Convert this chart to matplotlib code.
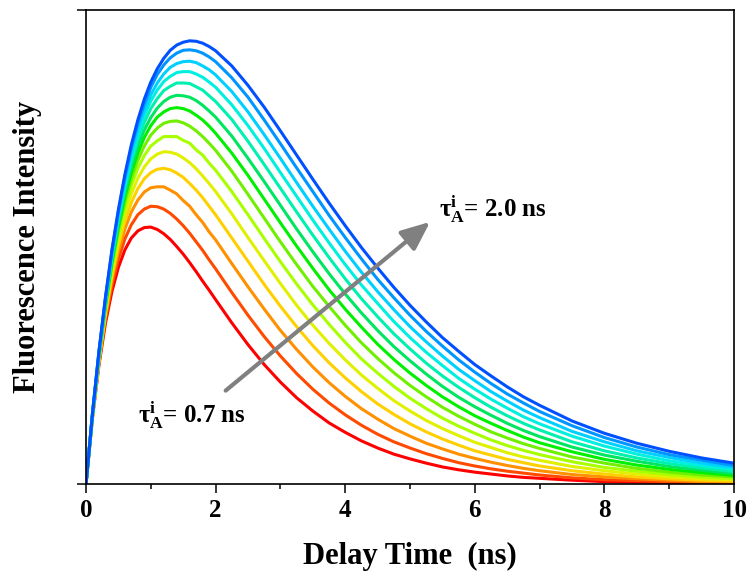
import matplotlib
matplotlib.use("Agg")
import matplotlib.pyplot as plt
from matplotlib.ticker import MultipleLocator

# delay time (ns) and intensity (a.u.) for tau_A^i = 0.7 ... 2.0 ns
delay_time = [0, 0.1, 0.2, 0.3, 0.4, 0.5, 0.6, 0.7, 0.8, 0.9, 1.0,
              1.1, 1.2, 1.3, 1.4, 1.5, 1.6, 1.7, 1.8, 1.9, 2.0,
              2.25, 2.5, 2.75, 3.0, 3.25, 3.5, 3.75, 4.0,
              4.25, 4.5, 4.75, 5.0, 5.25, 5.5, 5.75, 6.0, 6.25, 6.5, 6.75, 7.0,
              7.5, 8.0, 8.5, 9.0, 9.5, 10.0]

tau_07 = [0, 140, 251, 339, 406, 457, 494, 519, 534, 541, 542, 537, 528, 516, 501, 485, 467, 448, 428, 409, 389,
          340, 294, 252, 215, 182, 154, 129, 109, 91, 76, 63, 53, 44, 36, 30, 25, 21, 17, 14, 12, 8, 5, 4, 3, 2, 1]
tau_08 = [0, 140, 255, 346, 419, 475, 517, 547, 568, 580, 586, 585, 580, 571, 559, 545, 529, 511, 493, 473, 454,
          404, 356, 311, 270, 233, 200, 171, 146, 124, 105, 89, 76, 64, 54, 45, 38, 32, 27, 23, 19, 13, 9, 7, 5, 3, 2]
tau_09 = [0, 142, 258, 354, 431, 491, 538, 574, 599, 616, 625, 627, 627, 620, 612, 598, 586, 568, 552, 532, 515,
          465, 416, 369, 324, 284, 247, 214, 185, 159, 137, 117, 101, 86, 74, 63, 54, 46, 39, 33, 28, 20, 15, 11, 8, 5, 4]
tau_10 = [0, 142, 261, 359, 439, 504, 555, 594, 623, 644, 657, 664, 666, 663, 656, 647, 634, 620, 604, 586, 568,
          519, 470, 421, 375, 332, 292, 256, 224, 195, 169, 147, 127, 110, 95, 82, 70, 61, 52, 45, 38, 28, 21, 15, 11, 8, 6]
tau_11 = [0, 143, 263, 364, 447, 515, 569, 612, 645, 669, 686, 696, 701, 700, 696, 688, 678, 665, 650, 634, 617,
          570, 520, 471, 423, 377, 335, 297, 262, 230, 202, 176, 154, 134, 117, 102, 88, 77, 66, 57, 50, 37, 28, 21, 15, 11, 9]
tau_12 = [0, 144, 266, 369, 455, 526, 583, 630, 666, 693, 713, 724, 733, 733, 733, 725, 719, 705, 694, 677, 662,
          617, 568, 518, 469, 422, 378, 337, 299, 264, 234, 206, 181, 159, 139, 122, 107, 93, 81, 71, 62, 47, 35, 27, 20, 15, 11]
tau_13 = [0, 145, 268, 373, 461, 535, 595, 644, 683, 713, 736, 751, 761, 765, 766, 762, 755, 745, 733, 719, 704,
          660, 611, 561, 511, 463, 417, 375, 335, 298, 265, 235, 208, 184, 162, 143, 126, 110, 97, 85, 75, 57, 44, 33, 25, 19, 15]
tau_14 = [0, 145, 270, 377, 467, 543, 605, 657, 698, 731, 756, 774, 785, 792, 794, 792, 787, 778, 768, 755, 740,
          698, 651, 601, 551, 502, 455, 410, 369, 331, 295, 263, 234, 208, 184, 163, 144, 128, 113, 99, 87, 68, 52, 40, 31, 24, 18]
tau_15 = [0, 146, 272, 380, 472, 549, 614, 668, 712, 747, 773, 793, 807, 816, 820, 819, 816, 809, 799, 787, 774,
          734, 687, 638, 588, 538, 490, 444, 401, 361, 324, 290, 260, 232, 206, 183, 163, 145, 128, 113, 100, 78, 61, 48, 37, 29, 22]
tau_16 = [0, 147, 274, 383, 477, 557, 624, 680, 726, 763, 792, 813, 830, 839, 846, 846, 845, 838, 831, 819, 807,
          769, 723, 674, 624, 574, 525, 478, 433, 391, 353, 317, 285, 255, 228, 204, 182, 162, 144, 128, 114, 89, 70, 55, 43, 34, 26]
tau_17 = [0, 147, 276, 387, 482, 563, 632, 690, 738, 777, 808, 831, 849, 860, 868, 870, 870, 865, 858, 848, 837,
          800, 756, 708, 657, 607, 557, 509, 463, 420, 381, 343, 309, 278, 250, 223, 200, 179, 160, 142, 127, 101, 80, 63, 49, 39, 31]
tau_18 = [0, 148, 277, 389, 485, 568, 639, 698, 748, 788, 821, 846, 865, 879, 887, 891, 892, 889, 882, 874, 863,
          828, 785, 737, 687, 636, 586, 538, 491, 447, 406, 368, 332, 300, 270, 242, 218, 195, 175, 156, 140, 111, 89, 70, 56, 44, 35]
tau_19 = [0, 149, 279, 392, 491, 575, 648, 709, 760, 802, 837, 864, 884, 899, 909, 915, 916, 914, 909, 901, 891,
          857, 816, 768, 718, 667, 617, 567, 520, 475, 432, 393, 356, 322, 291, 262, 236, 212, 190, 171, 153, 123, 98, 78, 62, 50, 39]
tau_20 = [0, 149, 280, 394, 494, 579, 653, 716, 768, 812, 848, 876, 898, 915, 926, 932, 935, 934, 930, 923, 914,
          882, 841, 795, 745, 694, 643, 593, 545, 499, 456, 415, 377, 342, 309, 280, 252, 228, 205, 184, 166, 133, 107, 86, 69, 55, 44]

curves = [tau_07, tau_08, tau_09, tau_10, tau_11, tau_12, tau_13,
          tau_14, tau_15, tau_16, tau_17, tau_18, tau_19, tau_20]
colors = ['#ff0000', '#ff4a00', '#ff9000', '#ffd000', '#e0f000', '#a8ff00', '#70f000',
          '#00f000', '#00e660', '#00f0b0', '#00f0e0', '#00d0ff', '#0096ff', '#0050ff']

plt.rcParams['font.family'] = 'Liberation Serif'
plt.rcParams['font.weight'] = 'bold'
plt.rcParams['mathtext.fontset'] = 'custom'
plt.rcParams['mathtext.rm'] = 'Liberation Serif:bold'
plt.rcParams['mathtext.bf'] = 'Liberation Serif:bold'
plt.rcParams['mathtext.it'] = 'Liberation Serif:bold'

fig = plt.figure(figsize=(7.49, 5.76), dpi=100)
ax = fig.add_axes([86 / 749, 1 - 484 / 576, 648 / 749, 474 / 576])

for y, c in zip(curves, colors):
    ax.plot(delay_time, y, color=c, lw=2.2, solid_joinstyle='round')

ax.set_xlim(0, 10)
ax.set_ylim(0, 1000)
ax.xaxis.set_major_locator(MultipleLocator(2))
ax.xaxis.set_minor_locator(MultipleLocator(1))
ax.set_yticks([0, 1000])
ax.set_yticklabels([])
ax.tick_params(which='both', direction='out', width=1.1, top=False, right=False)
ax.tick_params(which='major', length=6.5, labelsize=18, pad=4)
ax.tick_params(which='minor', length=3.5)
for s in ax.spines.values():
    s.set_linewidth(1.2)

ax.set_xlabel('Delay Time  (ns)', fontsize=22, fontweight='bold', labelpad=15)
ax.set_ylabel('Fluorescence Intensity', fontsize=22, fontweight='bold', labelpad=21)

# arrow showing increasing tau_A^i
ax.annotate('', xy=(5.31, 553), xytext=(2.155, 197),
            arrowprops=dict(arrowstyle='-|>,head_length=0.7,head_width=0.3',
                            color='#808080', lw=3, mutation_scale=25, shrinkA=0, shrinkB=0))
ax.text(5.45, 564, r'τ$_\mathregular{A}^\mathregular{i}$= 2.0 ns', fontsize=18, ha='left', va='baseline')
ax.text(0.81, 129, r'τ$_\mathregular{A}^\mathregular{i}$= 0.7 ns', fontsize=18, ha='left', va='baseline')

fig.savefig('out.png', dpi=100)
